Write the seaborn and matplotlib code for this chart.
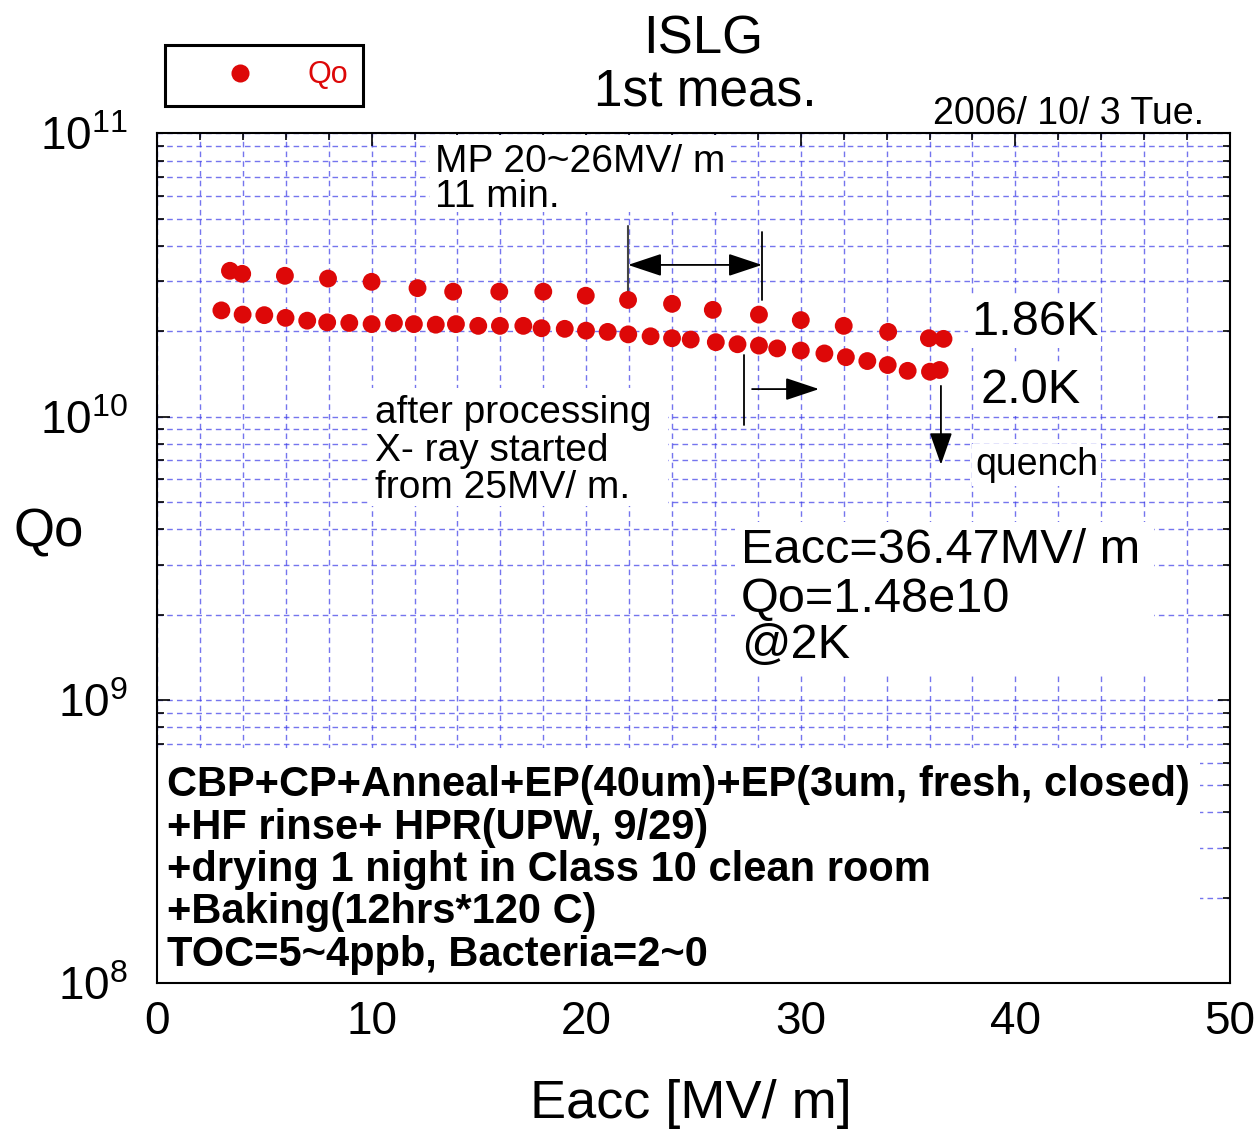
import numpy as np
import pandas as pd
import matplotlib
matplotlib.use('Agg')
import matplotlib.pyplot as plt
import matplotlib.transforms as mtransforms
from matplotlib.patches import Rectangle
from matplotlib.lines import Line2D
from matplotlib.ticker import MultipleLocator, LogLocator, NullFormatter
import seaborn as sns

# Qo vs Eacc, 1.86 K run (Qo in units of 1e10)
eacc_186 = [3.4, 3.97, 5.96, 7.97, 10.0, 12.14, 13.8, 15.95, 18.0, 19.98,
            21.95, 24.0, 25.9, 28.05, 30.0, 32.0, 34.07, 35.97, 36.65]
qo_186 = [3.27, 3.19, 3.14, 3.07, 2.99, 2.84, 2.76, 2.76, 2.76, 2.67,
          2.58, 2.50, 2.38, 2.29, 2.19, 2.09, 1.99, 1.89, 1.88]

# 2.0 K run
eacc_20 = [3.0, 3.99, 5.0, 5.99, 7.0, 7.93, 8.96, 10.0, 11.04, 11.97,
           12.99, 13.93, 14.97, 15.98, 17.07, 17.92, 19.0, 19.99, 21.0, 21.96,
           23.0, 24.0, 24.87, 26.04, 27.05, 28.05, 28.9, 30.0, 31.1, 32.1,
           33.1, 34.05, 34.98, 36.02, 36.47]
qo_20 = [2.37, 2.29, 2.28, 2.23, 2.18, 2.15, 2.14, 2.12, 2.14, 2.12,
         2.11, 2.12, 2.09, 2.09, 2.09, 2.05, 2.04, 2.01, 1.99, 1.95,
         1.92, 1.89, 1.87, 1.83, 1.80, 1.78, 1.74, 1.71, 1.67, 1.62,
         1.57, 1.52, 1.45, 1.44, 1.46]

recipe = ["CBP+CP+Anneal+EP(40um)+EP(3um, fresh, closed)",
          "+HF rinse+ HPR(UPW, 9/29)",
          "+drying 1 night in Class 10 clean room",
          "+Baking(12hrs*120 C)",
          "TOC=5~4ppb, Bacteria=2~0"]
mp_note = ["MP 20~26MV/ m", "11 min."]
xray_note = ["after processing", "X- ray started", "from 25MV/ m."]
result_note = ["Eacc=36.47MV/ m", "Qo=1.48e10", "@2K"]

RED = '#dd0808'
GRID = '#3a3ae8'

sns.set_style('ticks')
plt.rcParams['font.family'] = ['Liberation Sans', 'DejaVu Sans']
plt.rcParams['mathtext.fontset'] = 'custom'
plt.rcParams['mathtext.rm'] = 'Liberation Sans'
plt.rcParams['mathtext.it'] = 'Liberation Sans:italic'
plt.rcParams['mathtext.bf'] = 'Liberation Sans:bold'
plt.rcParams['text.color'] = 'black'
plt.rcParams['axes.labelcolor'] = 'black'
plt.rcParams['xtick.color'] = 'black'
plt.rcParams['ytick.color'] = 'black'

W, H = 1259, 1131
fig = plt.figure(figsize=(W / 100, H / 100), dpi=100)
ax = fig.add_axes([157 / W, 1 - 983 / H, 1073 / W, 849.7 / H])
# pixel coordinates (origin top-left) for text placement
px = mtransforms.Affine2D().scale(1 / W, -1 / H).translate(0, 1) + fig.transFigure

df = pd.DataFrame({'Eacc': eacc_186 + eacc_20,
                   'Qo': [q * 1e10 for q in qo_186 + qo_20]})
sns.scatterplot(data=df, x='Eacc', y='Qo', ax=ax, color=RED, s=165,
                edgecolor='none', linewidth=0, legend=False, zorder=3)

ax.set_yscale('log')
ax.set_xlim(0, 50)
ax.set_ylim(1e8, 1e11)
ax.xaxis.set_major_locator(MultipleLocator(10))
ax.xaxis.set_minor_locator(MultipleLocator(2))
ax.yaxis.set_major_locator(LogLocator(base=10))
ax.yaxis.set_minor_locator(LogLocator(base=10, subs=np.arange(2, 10)))
ax.yaxis.set_minor_formatter(NullFormatter())

ax.set_axisbelow(True)
ax.grid(True, which='both', color=GRID, ls=(0, (4, 3)), lw=1.0, alpha=0.7)
ax.tick_params(which='both', direction='in', top=True, right=True,
               color='black', labelcolor='black', width=1.2)
ax.tick_params(which='major', length=9)
ax.tick_params(which='minor', length=5)
ax.tick_params(axis='x', labelsize=33, pad=12)
ax.tick_params(axis='y', labelsize=33, pad=21)
for sp in ax.spines.values():
    sp.set_linewidth(1.5)
    sp.set_color('black')

ax.set_xlabel('Eacc [MV/ m]', fontsize=39, color='black')
ax.xaxis.set_label_coords(0.4977, -0.1424)
ax.xaxis.label.set_va('center')
ax.set_ylabel('Qo', fontsize=38, rotation=0, va='center', ha='center',
              color='black')
ax.yaxis.set_label_coords(-0.1007, 0.5296)


def txt(x, y, s, size, **kw):
    kw.setdefault('ha', 'left')
    ax.text(x, y, s, transform=px, fontsize=size, va='baseline',
            color='black', clip_on=False, zorder=2.3, **kw)


def box(x0, y0, x1, y1):
    ax.add_patch(Rectangle((x0, y0), x1 - x0, y1 - y0, transform=px,
                           fc='white', ec='none', zorder=2.2, clip_on=False))


# titles
txt(703, 54, 'ISLG', 38, ha='center')
txt(705, 105, '1st meas.', 37, ha='center')
txt(1204, 124, '2006/ 10/ 3 Tue.', 27, ha='right')

# annotation blocks
box(430, 135, 727, 212)
for s, b in zip(mp_note, [172, 207]):
    txt(435, b, s, 28)

box(370, 388, 668, 506)
for s, b in zip(xray_note, [423, 461, 498]):
    txt(375, b, s, 28)

box(735, 522, 1154, 673)
for s, b in zip(result_note, [563, 612, 658]):
    txt(741, b, s, 35)

wb = dict(fc='white', ec='none', pad=2)
txt(971, 335, '1.86K', 35, bbox=wb)
txt(981, 403, '2.0K', 35, bbox=wb)
txt(975, 475, 'quench', 27, bbox=wb)

box(157, 748, 1200, 982)
for s, b in zip(recipe, [796, 839, 881, 923, 966]):
    txt(167, b, s, 30, fontweight='bold')

# markers for processing range and quench
ax.plot([21.95, 21.95], [4.71e10, 2.65e10], color='#444444', lw=1.5, zorder=2.4)
ax.plot([28.19, 28.19], [4.48e10, 2.58e10], color='black', lw=1.3, zorder=2.4)
ax.plot([27.35, 27.35], [1.65e10, 9.35e9], color='black', lw=1.3, zorder=2.4)
head = dict(lw=1.3, color='black', shrinkA=0, shrinkB=0, mutation_scale=10)
ax.annotate('', xy=(28.19, 3.43e10), xytext=(21.95, 3.43e10),
            arrowprops=dict(arrowstyle='<|-|>,head_length=2.1,head_width=0.7', **head))
ax.annotate('', xy=(30.85, 1.25e10), xytext=(27.73, 1.25e10),
            arrowprops=dict(arrowstyle='-|>,head_length=2.1,head_width=0.7', **head))
ax.annotate('', xy=(36.53, 6.76e9), xytext=(36.53, 1.283e10),
            arrowprops=dict(arrowstyle='-|>,head_length=2.0,head_width=0.7', **head))

# legend
handle = Line2D([], [], marker='o', ls='none', color=RED, markersize=13,
                markeredgewidth=0)
leg = fig.legend([handle], ['Qo'], loc='upper left',
                 bbox_to_anchor=(165 / W, 1 - 45 / H), borderaxespad=0,
                 fontsize=22, frameon=True, fancybox=False, edgecolor='black',
                 borderpad=0.5, handlelength=3.9, handletextpad=0.26,
                 framealpha=1)
leg.get_frame().set_linewidth(2.2)
for t in leg.get_texts():
    t.set_color(RED)

fig.savefig('out.png', dpi=100)
